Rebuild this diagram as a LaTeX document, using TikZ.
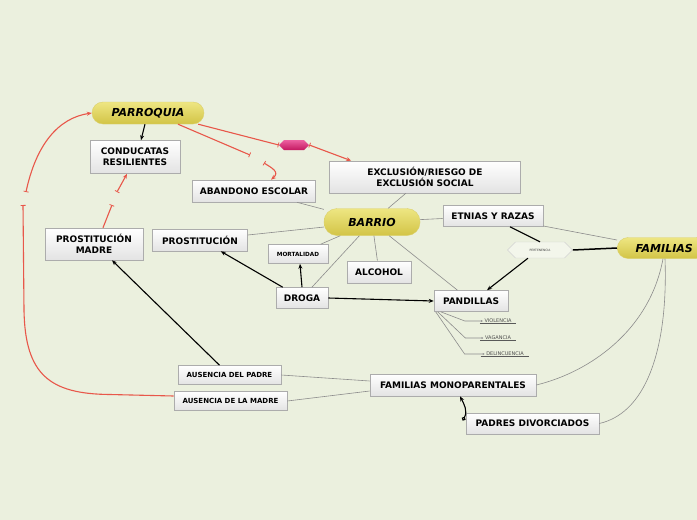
\documentclass[tikz,border=0pt]{standalone}
\usepackage{fontspec}
\setmainfont{DejaVu Sans}
\usetikzlibrary{shapes.symbols,arrows.meta,calc}

\definecolor{fondo}{RGB}{235,240,222}
\definecolor{pillA}{RGB}{238,230,130}
\definecolor{pillB}{RGB}{210,196,70}
\definecolor{rojo}{RGB}{232,87,74}
\definecolor{rosaA}{RGB}{236,96,160}
\definecolor{rosaB}{RGB}{196,24,96}

\begin{document}
\begin{tikzpicture}[x=1pt,y=-1pt,
		box/.style={rectangle,draw=gray!65,line width=0.6pt,top color=white,bottom color=gray!22,
			font=\fontsize{9}{11}\selectfont\bfseries,align=center,inner sep=0pt},
		small box/.style={box,font=\fontsize{7}{8}\selectfont\bfseries},
		pill/.style={rectangle,rounded corners=11pt,top color=pillA,bottom color=pillB,draw=pillB!80,
			line width=0.4pt,font=\fontsize{11}{12}\selectfont\bfseries\itshape,inner sep=0pt},
		sub/.style={font=\fontsize{5}{6}\selectfont,text=gray!60!black,inner sep=1.5pt},
		thin line/.style={draw=gray!90,line width=0.6pt},
		flecha/.style={draw=black,line width=1.1pt,-{Stealth[length=5pt,width=4pt]}},
		rel/.style={draw=rojo,line width=1.1pt},
		relarrow/.style={rel,-{Stealth[length=5pt,width=4pt]}},
		bar/.tip={Bar[width=5pt,line width=0.8pt]}]

	\fill[fondo] (0,0) rectangle (697,520);
	\useasboundingbox (0,0) rectangle (697,520);

	% central topics
	\node[pill,minimum width=112,minimum height=22] (parr) at (148,113) {PARROQUIA};
	\node[pill,minimum width=96,minimum height=27,rounded corners=13pt] (barrio) at (372,222) {BARRIO};
	\node[pill,minimum width=90,minimum height=21,anchor=west] (fam) at (617,248) {\hspace*{4pt}FAMILIAS};

	% boxes
	\node[box,minimum width=90,minimum height=33] (cond) at (135,157) {CONDUCATAS\\RESILIENTES};
	\node[box,minimum width=191,minimum height=32] (excl) at (425,177) {EXCLUSIÓN/RIESGO DE\\EXCLUSIÓN SOCIAL};
	\node[box,minimum width=123,minimum height=22] (aband) at (254,191) {ABANDONO ESCOLAR};
	\node[box,minimum width=100,minimum height=21] (etnias) at (493,216) {ETNIAS Y RAZAS};
	\node[box,minimum width=98,minimum height=32] (pmadre) at (94,244) {PROSTITUCIÓN\\MADRE};
	\node[box,minimum width=95,minimum height=22] (prost) at (200,240) {PROSTITUCIÓN};
	\node[box,minimum width=60,minimum height=19,font=\fontsize{5.7}{7}\selectfont\bfseries] (mort) at (298,254) {MORTALIDAD};
	\node[box,minimum width=64,minimum height=22] (alc) at (379,272) {ALCOHOL};
	\node[box,minimum width=52,minimum height=21] (droga) at (302,298) {DROGA};
	\node[box,minimum width=74,minimum height=21] (pand) at (471,301) {PANDILLAS};
	\node[small box,minimum width=103,minimum height=19] (padre) at (229.5,375) {AUSENCIA DEL PADRE};
	\node[small box,minimum width=113,minimum height=19] (madre) at (230.5,401) {AUSENCIA DE LA MADRE};
	\node[box,minimum width=166,minimum height=22] (mono) at (453,385) {FAMILIAS MONOPARENTALES};
	\node[box,minimum width=133,minimum height=21] (div) at (532.5,423.5) {PADRES DIVORCIADOS};

	% hexagons
	\node[signal,signal to=east and west,minimum width=30,minimum height=10,inner sep=0pt,
		top color=rosaA,bottom color=rosaB,draw=none] (hex) at (294,145) {};
	\node[signal,signal to=east and west,minimum width=65,minimum height=16,inner sep=1pt,
		fill=fondo!60!white,draw=gray!35,font=\fontsize{3}{3}\selectfont,text=gray!50!black] (pert) at (540,250) {PERTENENCIA};

	% sub topics of pandillas
	\node[sub] (viol) at (498,321) {VIOLENCIA};
	\node[sub] (vag) at (498,338) {VAGANCIA};
	\node[sub] (delin) at (505,354) {DELINCUENCIA};
	\foreach \s/\d in {viol/3, vag/3, delin/4}
		\draw[gray!70!black,line width=0.5pt] ($(\s.south west)+(-\d,-1)$) -- ($(\s.south east)+(\d,-1)$);
	\draw[thin line,-{Stealth[length=2pt,width=2pt]}] ($(pand.south west)+(7,0)$) -- ($(viol.west)+(-18,0)$) -- (viol.west);
	\draw[thin line,-{Stealth[length=2pt,width=2pt]}] ($(pand.south west)+(4,0)$) -- ($(vag.west)+(-18,0)$) -- (vag.west);
	\draw[thin line,-{Stealth[length=2pt,width=2pt]}] ($(pand.south west)+(2,0)$) -- ($(delin.west)+(-20,0)$) -- (delin.west);

	% barrio branches
	\path[thin line]
	(barrio) edge (excl)
	edge (aband)
	edge (prost)
	edge (mort)
	edge (droga)
	edge (alc)
	edge (pand)
	edge (etnias);

	% familias branches
	\draw[thin line] (fam.west) ++(0,-8) -- (etnias.east |- 0,226);
	\draw[thin line] ($(fam.south west)+(46,0)$) .. controls (650,330) and (590,372) .. (mono.east);
	\draw[thin line] ($(fam.south west)+(48,0)$) .. controls (668,340) and (650,412) .. (div.east);
	\draw[thin line] (mono.west) ++(0,-4) -- (padre.east);
	\draw[thin line] (mono.west) ++(0,6) -- (madre.east);

	% black arrows
	\draw[flecha] (parr.south) ++(-3,0) -- ($(cond.north)+(6,0)$);
	\draw[flecha] ($(droga.north west)+(7,0)$) -- ($(prost.south east)+(-27,0)$);
	\draw[flecha] (droga.north) -- ($(mort.south)+(2,0)$);
	\draw[flecha] (droga.east) -- (pand.west);
	\draw[flecha] (padre.north) ++(-10,0) -- ($(pmadre.south)+(18,0)$);
	\draw[draw=black,line width=1.2pt] (etnias.south) ++(17,0) -- (pert.north);
	\draw[flecha] (pert.south) ++(-12,0) -- ($(pand.north)+(16,0)$);
	\draw[draw=black,line width=1.5pt] (fam.west) -- (pert.east);
	\draw[flecha,{Circle[open,length=4pt,width=4pt]}-{Stealth[length=5pt,width=4pt]}]
		($(div.west)+(-3,-3)$) .. controls (468,411) and (464,404) .. ($(mono.south)+(7,0)$);

	% relationships
	\draw[rel,-{bar}] (parr.south east) ++(-6,0) -- (hex.west);
	\draw[relarrow,{bar}-{Stealth[length=5pt,width=4pt]}] (hex.east) -- ($(excl.north west)+(22,0)$);
	\coordinate (r1) at (250,155);
	\coordinate (r2) at (264,163);
	\draw[rel,-{bar}] ($(parr.south)+(30,0)$) -- (r1);
	\draw[relarrow,{bar}-{Stealth[length=5pt,width=4pt]}] (r2) .. controls (272,168) and (280,172) .. ($(aband.north)+(17,0)$);
	\coordinate (r3) at (112,205);
	\coordinate (r4) at (117,192);
	\draw[rel,-{bar}] ($(pmadre.north)+(9,0)$) -- (r3);
	\draw[relarrow,{bar}-{Stealth[length=5pt,width=4pt]}] (r4) -- ($(cond.south)+(-8,0)$);
	\coordinate (r5) at (23,205);
	\coordinate (r6) at (26,192);
	\draw[rel,-{bar}] ($(madre.west)+(0,-5)$) -- (110,394.5) .. controls (50,394) and (25,375) .. (24,310) -- (r5);
	\draw[relarrow,{bar}-{Stealth[length=5pt,width=4pt]}] (r6) .. controls (36,145) and (58,118) .. (parr.west);
\end{tikzpicture}
\end{document}
